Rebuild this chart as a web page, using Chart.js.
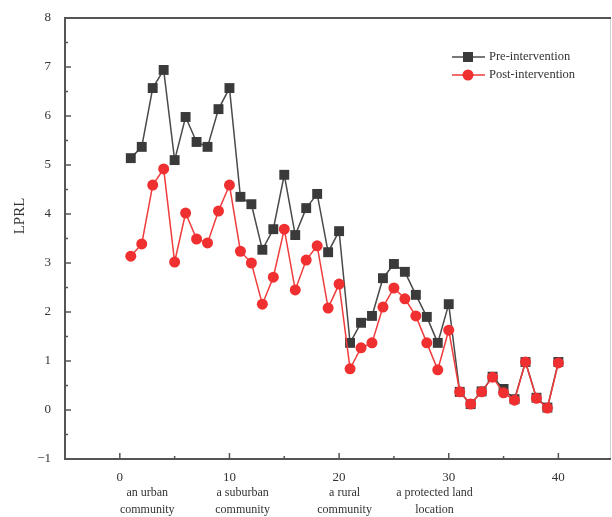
<!DOCTYPE html>
<html>
<head>
<meta charset="utf-8">
<script src="https://cdn.jsdelivr.net/npm/chart.js@4"></script>
<style>
  body { margin: 0; background: #fff; }
  #wrap { width: 612px; height: 517px; }
</style>
</head>
<body>
<div id="wrap"><canvas id="lprl-chart"></canvas></div>
<script>
// sample numbers 1..40
const sites = Array.from({length: 40}, (_, i) => i + 1);

const preValues = [5.14, 5.37, 6.57, 6.94, 5.10, 5.98, 5.47, 5.37, 6.14, 6.57,
                   4.35, 4.20, 3.27, 3.69, 4.80, 3.57, 4.12, 4.41, 3.22, 3.65,
                   1.37, 1.78, 1.92, 2.69, 2.98, 2.82, 2.35, 1.90, 1.37, 2.16,
                   0.37, 0.12, 0.38, 0.68, 0.43, 0.22, 0.98, 0.25, 0.05, 0.98];

const postValues = [3.14, 3.39, 4.59, 4.92, 3.02, 4.02, 3.49, 3.41, 4.06, 4.59,
                    3.24, 3.00, 2.16, 2.71, 3.69, 2.45, 3.06, 3.35, 2.08, 2.57,
                    0.84, 1.27, 1.37, 2.10, 2.49, 2.27, 1.92, 1.37, 0.82, 1.63,
                    0.37, 0.12, 0.37, 0.67, 0.35, 0.20, 0.98, 0.24, 0.04, 0.96];

const xTicks = [0, 10, 20, 30, 40];
const yTicks = [-1, 0, 1, 2, 3, 4, 5, 6, 7, 8];

const groupNames = [["an urban", "community"], ["a suburban", "community"],
                    ["a rural", "community"], ["a protected land", "location"]];
const groupAnchors = [2.5, 11.2, 20.5, 28.7];

const serif = "'Liberation Serif', 'Times New Roman', serif";

// box frame + inward ticks + axis title + group captions + legend inside the plot
const decor = {
  id: 'decor',
  afterDraw(chart) {
    const ctx = chart.ctx, a = chart.chartArea;
    const xs = chart.scales.x, ys = chart.scales.y;
    ctx.save();
    ctx.strokeStyle = '#d0d0d0';
    ctx.lineWidth = 1;
    ctx.beginPath(); ctx.moveTo(a.right - 0.5, a.top); ctx.lineTo(a.right - 0.5, a.bottom); ctx.stroke();

    ctx.strokeStyle = '#555';
    ctx.lineWidth = 2;
    ctx.beginPath();
    ctx.moveTo(a.right, a.top); ctx.lineTo(a.left, a.top);
    ctx.lineTo(a.left, a.bottom); ctx.lineTo(a.right, a.bottom);
    ctx.stroke();

    ctx.lineWidth = 1.5;
    ctx.beginPath();
    for (let v = 0; v <= 40; v += 5) {
      const px = xs.getPixelForValue(v);
      const len = v % 10 === 0 ? 6 : 3;
      ctx.moveTo(px, a.bottom); ctx.lineTo(px, a.bottom - len);
    }
    for (let v = -1; v <= 8; v += 0.5) {
      const py = ys.getPixelForValue(v);
      const len = Number.isInteger(v) ? 6 : 3;
      ctx.moveTo(a.left, py); ctx.lineTo(a.left + len, py);
    }
    ctx.stroke();

    ctx.fillStyle = '#333';
    ctx.textAlign = 'center';
    ctx.textBaseline = 'middle';

    ctx.save();
    ctx.translate(20, 216);
    ctx.rotate(-Math.PI / 2);
    ctx.font = '15px ' + serif;
    ctx.fillText('LPRL', 0, 0);
    ctx.restore();

    ctx.font = '12px ' + serif;
    groupNames.forEach((lines, i) => {
      const px = xs.getPixelForValue(groupAnchors[i]);
      lines.forEach((t, j) => ctx.fillText(t, px, 493 + j * 17));
    });

    const items = [
      {label: 'Pre-intervention', ds: chart.data.datasets[0]},
      {label: 'Post-intervention', ds: chart.data.datasets[1]}
    ];
    ctx.font = '12.5px ' + serif;
    ctx.textAlign = 'left';
    items.forEach((it, i) => {
      const y = 57 + i * 18;
      ctx.strokeStyle = it.ds.borderColor;
      ctx.lineWidth = 1.5;
      ctx.beginPath(); ctx.moveTo(452, y); ctx.lineTo(485, y); ctx.stroke();
      ctx.fillStyle = it.ds.pointBackgroundColor;
      ctx.beginPath();
      if (it.ds.pointStyle === 'rect') ctx.rect(463, y - 5, 10, 10);
      else ctx.arc(468, y, 5.5, 0, Math.PI * 2);
      ctx.fill();
      ctx.fillStyle = '#333';
      ctx.fillText(it.label, 489, y);
    });
    ctx.restore();
  }
};

new Chart(document.getElementById('lprl-chart'), {
  type: 'line',
  data: {
    labels: sites,
    datasets: [{
      label: 'Pre-intervention',
      data: sites.map((s, i) => ({x: s, y: preValues[i]})),
      borderColor: '#4a4a4a',
      borderWidth: 1.5,
      pointStyle: 'rect',
      pointRadius: 7,
      pointBackgroundColor: '#3a3a3a',
      pointBorderColor: '#3a3a3a',
      pointBorderWidth: 0,
      order: 1
    }, {
      label: 'Post-intervention',
      data: sites.map((s, i) => ({x: s, y: postValues[i]})),
      borderColor: '#f03c3c',
      borderWidth: 1.5,
      pointStyle: 'circle',
      pointRadius: 5.5,
      pointBackgroundColor: '#f03030',
      pointBorderColor: '#f03030',
      pointBorderWidth: 0,
      order: 0
    }]
  },
  options: {
    responsive: true,
    maintainAspectRatio: false,
    animation: false,
    events: [],
    layout: { autoPadding: false, padding: { top: 18, right: 1, left: 0, bottom: 0 } },
    plugins: { legend: { display: false }, tooltip: { enabled: false } },
    scales: {
      x: {
        type: 'linear',
        min: -5,
        max: 44.8,
        afterBuildTicks: s => { s.ticks = xTicks.map(v => ({value: v})); },
        afterFit: s => { s.height = 58; s.paddingLeft = 0; s.paddingRight = 0; },
        grid: { display: false, drawTicks: false },
        border: { display: false },
        ticks: { padding: 11, color: '#333', font: { family: serif, size: 13 } }
      },
      y: {
        min: -1,
        max: 8,
        afterBuildTicks: s => { s.ticks = yTicks.map(v => ({value: v})); },
        afterFit: s => { s.width = 65; s.paddingTop = 0; s.paddingBottom = 0; },
        grid: { display: false, drawTicks: false },
        border: { display: false },
        ticks: { padding: 14, color: '#333', font: { family: serif, size: 13 },
                 callback: v => v < 0 ? '\u22121' : String(v) }
      }
    }
  },
  plugins: [decor]
});
</script>
</body>
</html>
